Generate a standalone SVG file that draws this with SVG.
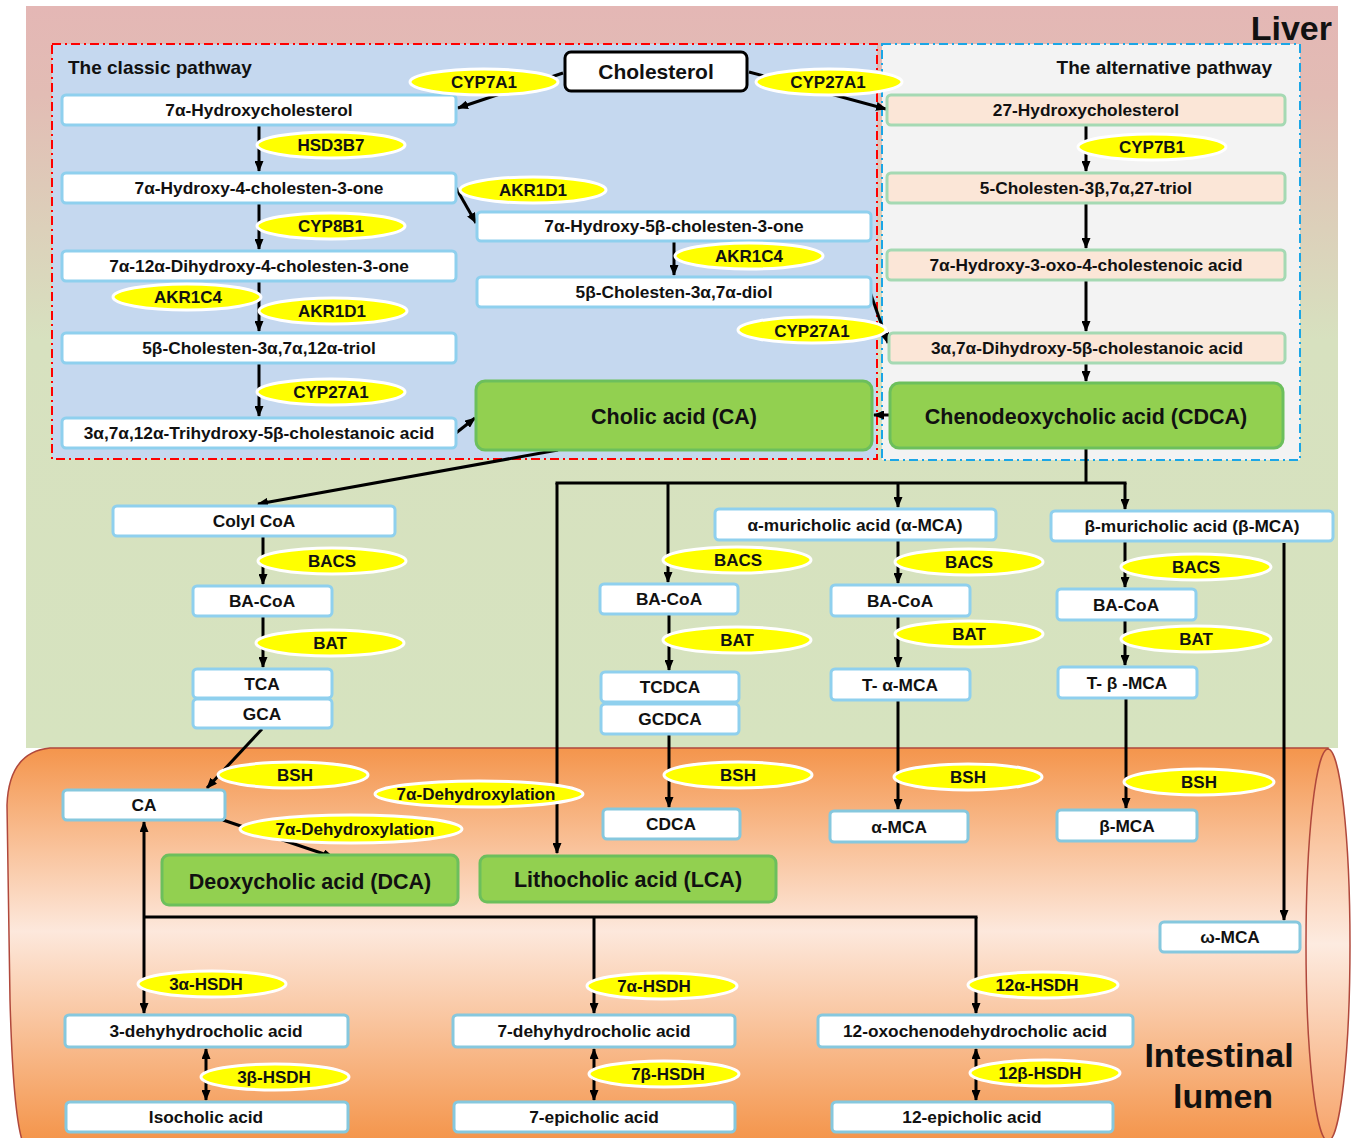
<svg xmlns="http://www.w3.org/2000/svg" width="1352" height="1138" viewBox="0 0 1352 1138">
<defs>
<linearGradient id="liverG" gradientUnits="userSpaceOnUse" x1="0" y1="6" x2="0" y2="748">
<stop offset="0" stop-color="#e4b7b5"/>
<stop offset="0.12" stop-color="#e2bcb4"/>
<stop offset="0.45" stop-color="#d7e1bf"/>
<stop offset="1" stop-color="#d6e3bf"/>
</linearGradient>
<linearGradient id="gutG" gradientUnits="userSpaceOnUse" x1="0" y1="748" x2="0" y2="1138">
<stop offset="0" stop-color="#f4954c"/>
<stop offset="0.47" stop-color="#fde8dc"/>
<stop offset="1" stop-color="#f4964d"/>
</linearGradient>
<linearGradient id="endG" gradientUnits="userSpaceOnUse" x1="0" y1="748" x2="0" y2="1140">
<stop offset="0" stop-color="#f7a56a"/>
<stop offset="0.5" stop-color="#fdebe0"/>
<stop offset="1" stop-color="#f7a46a"/>
</linearGradient>
<marker id="ah" markerUnits="userSpaceOnUse" markerWidth="11" markerHeight="9" refX="10" refY="4.5" orient="auto-start-reverse">
<path d="M0,0 L11,4.5 L0,9 z" fill="#000"/>
</marker>
<style>
text{font-family:"Liberation Sans",Arial,sans-serif;font-weight:bold;fill:#111;text-anchor:middle}
.nb{fill:#fff;stroke:#8fd0ee;stroke-width:3}
.ib{fill:#fff;stroke:#86c8de;stroke-width:3}
.ab{fill:#fbe6d7;stroke:#a5d9b3;stroke-width:3}
.gb{fill:#92d050;stroke:#6cbf5c;stroke-width:3}
.en{fill:#ffff00;stroke:#fff;stroke-width:3}
.t{font-size:17.3px}
.e{font-size:17px}
.g{font-size:21.5px}
.c{stroke:#000;stroke-width:3;fill:none}
.a{stroke:#000;stroke-width:3;fill:none;marker-end:url(#ah)}
.d{stroke:#000;stroke-width:3;fill:none;marker-end:url(#ah);marker-start:url(#ah)}
</style>
</defs>

<!-- backgrounds -->
<rect x="26" y="6" width="1312" height="742" fill="url(#liverG)"/>
<path d="M1328,748 L50,748 Q9,752 7,805 L10,1000 Q13,1110 22,1140 L1328,1140 Z" fill="url(#gutG)" stroke="#b0483c" stroke-width="1.5"/>
<ellipse cx="1328" cy="945" rx="22" ry="196" fill="url(#endG)" stroke="#b0483c" stroke-width="1.5"/>
<rect x="52" y="44" width="825" height="415" fill="#c5d8ef" stroke="#ff0000" stroke-width="2" stroke-dasharray="9,4,2,4"/>
<rect x="882" y="44" width="418" height="416" fill="#f3f3f3" stroke="#1ba6e6" stroke-width="2" stroke-dasharray="9,4,2,4"/>
<text x="1332" y="40" style="font-size:34px;text-anchor:end">Liver</text>
<text x="68" y="74" style="font-size:19px;text-anchor:start">The classic pathway</text>
<text x="1272" y="74" style="font-size:19px;text-anchor:end">The alternative pathway</text>
<text x="1219" y="1067" style="font-size:34px">Intestinal</text>
<text x="1223" y="1108" style="font-size:34px">lumen</text>

<g id="connectors">
<path class="a" d="M563,73 L458,108"/>
<path class="a" d="M749,72 L886,109"/>
<path class="a" d="M259,126 V171"/>
<path class="a" d="M259,204 V249"/>
<path class="a" d="M259,282 V331"/>
<path class="a" d="M259,364 V416"/>
<path class="a" d="M456,188 L476,223"/>
<path class="a" d="M674,241 V275"/>
<path class="a" d="M870,292 L888,343"/>
<path class="a" d="M456,433 L475,418"/>
<path class="a" d="M890,415 H874"/>
<path class="a" d="M1086,126 V171"/>
<path class="a" d="M1086,204 V248"/>
<path class="a" d="M1086,281 V331"/>
<path class="a" d="M1086,364 V381"/>
<path class="a" d="M558,450 L258,504"/>
<path class="c" d="M1086,449 V483 M555.5,483 H1126.5"/>
<path class="a" d="M557,483 V853"/>
<path class="a" d="M668,483 V582"/>
<path class="a" d="M898,483 V507"/>
<path class="a" d="M1125,483 V509"/>
<path class="a" d="M263,537 V584"/>
<path class="a" d="M263,617 V667"/>
<path class="a" d="M262,729 L207,788"/>
<path class="a" d="M669,615 V670"/>
<path class="a" d="M669,735 V807"/>
<path class="a" d="M898,541 V583"/>
<path class="a" d="M898,617 V667"/>
<path class="a" d="M898,701 V809"/>
<path class="a" d="M1125,542 V587"/>
<path class="a" d="M1125,621 V665"/>
<path class="a" d="M1126,699 V808"/>
<path class="a" d="M1284,543 V920"/>
<path class="a" d="M223,820 L333,857"/>
<path class="a" d="M144,917 V822"/>
<path class="a" d="M144,917 V1013"/>
<path class="c" d="M144,917 H977.5"/>
<path class="a" d="M594,917 V1013"/>
<path class="a" d="M976,917 V1013"/>
<path class="d" d="M206,1049 V1100"/>
<path class="d" d="M594,1049 V1100"/>
<path class="d" d="M976,1049 V1100"/>
</g>

<!-- liver: classic -->
<g id="cholesterol"><rect x="565" y="52" width="182" height="39" rx="6" fill="#fff" stroke="#000" stroke-width="3"/><text x="656" y="79" style="font-size:21px">Cholesterol</text></g>
<g id="n_7ahc"><rect class="nb" x="62" y="95" width="394" height="30" rx="4"/><text class="t" x="259" y="116">7α-Hydroxycholesterol</text></g>
<g id="n_7ah4c"><rect class="nb" x="62" y="173" width="394" height="30" rx="4"/><text class="t" x="259" y="194">7α-Hydroxy-4-cholesten-3-one</text></g>
<g id="n_dihydroxy"><rect class="nb" x="62" y="251" width="394" height="30" rx="4"/><text class="t" x="259" y="272">7α-12α-Dihydroxy-4-cholesten-3-one</text></g>
<g id="n_triol"><rect class="nb" x="62" y="333" width="394" height="30" rx="4"/><text class="t" x="259" y="354">5β-Cholesten-3α,7α,12α-triol</text></g>
<g id="n_thca"><rect class="nb" x="62" y="418" width="394" height="30" rx="4"/><text class="t" x="259" y="439">3α,7α,12α-Trihydroxy-5β-cholestanoic acid</text></g>
<g id="n_7ah5b"><rect class="nb" x="477" y="212" width="394" height="29" rx="4"/><text class="t" x="674" y="232">7α-Hydroxy-5β-cholesten-3-one</text></g>
<g id="n_diol"><rect class="nb" x="477" y="277" width="394" height="30" rx="4"/><text class="t" x="674" y="298">5β-Cholesten-3α,7α-diol</text></g>
<g id="n_ca"><rect class="gb" x="476" y="381" width="396" height="69" rx="9"/><text class="g" x="674" y="424">Cholic acid (CA)</text></g>

<!-- liver: alternative -->
<g id="n_27hc"><rect class="ab" x="887" y="95" width="398" height="30" rx="4"/><text class="t" x="1086" y="116">27-Hydroxycholesterol</text></g>
<g id="n_triol27"><rect class="ab" x="887" y="173" width="398" height="30" rx="4"/><text class="t" x="1086" y="194">5-Cholesten-3β,7α,27-triol</text></g>
<g id="n_oxo"><rect class="ab" x="887" y="250" width="398" height="30" rx="4"/><text class="t" x="1086" y="271">7α-Hydroxy-3-oxo-4-cholestenoic acid</text></g>
<g id="n_dhca"><rect class="ab" x="889" y="333" width="396" height="30" rx="4"/><text class="t" x="1087" y="354">3α,7α-Dihydroxy-5β-cholestanoic acid</text></g>
<g id="n_cdca"><rect class="gb" x="890" y="383" width="393" height="65" rx="9"/><text class="g" x="1086" y="424">Chenodeoxycholic acid (CDCA)</text></g>

<!-- liver: conjugation -->
<g id="n_colyl"><rect class="nb" x="113" y="506" width="282" height="30" rx="4"/><text class="t" x="254" y="527">Colyl CoA</text></g>
<g id="n_bacoa1"><rect class="nb" x="193" y="586" width="139" height="30" rx="4"/><text class="t" x="262" y="607">BA-CoA</text></g>
<g id="n_tca"><rect class="nb" x="193" y="669" width="139" height="29" rx="4"/><text class="t" x="262" y="690">TCA</text></g>
<g id="n_gca"><rect class="nb" x="193" y="699" width="139" height="29" rx="4"/><text class="t" x="262" y="720">GCA</text></g>
<g id="n_amca_acid"><rect class="nb" x="715" y="509" width="281" height="31" rx="4"/><text class="t" x="855" y="531">α-muricholic acid (α-MCA)</text></g>
<g id="n_bmca_acid"><rect class="nb" x="1051" y="511" width="282" height="30" rx="4"/><text class="t" x="1192" y="532">β-muricholic acid (β-MCA)</text></g>
<g id="n_bacoa2"><rect class="nb" x="600" y="584" width="138" height="30" rx="4"/><text class="t" x="669" y="605">BA-CoA</text></g>
<g id="n_tcdca"><rect class="nb" x="601" y="672" width="138" height="30" rx="4"/><text class="t" x="670" y="693">TCDCA</text></g>
<g id="n_gcdca"><rect class="nb" x="601" y="704" width="138" height="30" rx="4"/><text class="t" x="670" y="725">GCDCA</text></g>
<g id="n_bacoa3"><rect class="nb" x="831" y="585" width="139" height="31" rx="4"/><text class="t" x="900" y="607">BA-CoA</text></g>
<g id="n_tamca"><rect class="nb" x="831" y="669" width="139" height="31" rx="4"/><text class="t" x="900" y="691">T- α-MCA</text></g>
<g id="n_bacoa4"><rect class="nb" x="1057" y="589" width="139" height="31" rx="4"/><text class="t" x="1126" y="611">BA-CoA</text></g>
<g id="n_tbmca"><rect class="nb" x="1058" y="667" width="139" height="31" rx="4"/><text class="t" x="1127" y="689">T- β -MCA</text></g>

<!-- intestine -->
<g id="n_ca2"><rect class="ib" x="63" y="790" width="162" height="30" rx="4"/><text class="t" x="144" y="811">CA</text></g>
<g id="n_dca"><rect class="gb" x="162" y="855" width="296" height="50" rx="7"/><text class="g" x="310" y="889">Deoxycholic acid (DCA)</text></g>
<g id="n_lca"><rect class="gb" x="480" y="856" width="296" height="46" rx="7"/><text class="g" x="628" y="887">Lithocholic acid (LCA)</text></g>
<g id="n_cdca2"><rect class="ib" x="603" y="809" width="137" height="30" rx="4"/><text class="t" x="671" y="830">CDCA</text></g>
<g id="n_amca"><rect class="ib" x="830" y="811" width="138" height="31" rx="4"/><text class="t" x="899" y="833">α-MCA</text></g>
<g id="n_bmca"><rect class="ib" x="1057" y="810" width="140" height="31" rx="4"/><text class="t" x="1127" y="832">β-MCA</text></g>
<g id="n_omca"><rect class="ib" x="1160" y="922" width="140" height="30" rx="4"/><text class="t" x="1230" y="943">ω-MCA</text></g>
<g id="n_3dehydro"><rect class="ib" x="65" y="1015" width="283" height="32" rx="4"/><text class="t" x="206" y="1037">3-dehyhydrocholic acid</text></g>
<g id="n_iso"><rect class="ib" x="66" y="1102" width="282" height="30" rx="4"/><text class="t" x="206" y="1123">Isocholic acid</text></g>
<g id="n_7dehydro"><rect class="ib" x="453" y="1015" width="282" height="32" rx="4"/><text class="t" x="594" y="1037">7-dehyhydrocholic acid</text></g>
<g id="n_7epi"><rect class="ib" x="454" y="1102" width="281" height="30" rx="4"/><text class="t" x="594" y="1123">7-epicholic acid</text></g>
<g id="n_12oxo"><rect class="ib" x="818" y="1015" width="315" height="32" rx="4"/><text class="t" x="975" y="1037">12-oxochenodehydrocholic acid</text></g>
<g id="n_12epi"><rect class="ib" x="832" y="1102" width="281" height="30" rx="4"/><text class="t" x="972" y="1123">12-epicholic acid</text></g>

<!-- enzyme labels -->
<g id="e_cyp7a1"><ellipse class="en" cx="484" cy="82" rx="74" ry="13"/><text class="e" x="484" y="88">CYP7A1</text></g>
<g id="e_cyp27a1_top"><ellipse class="en" cx="829" cy="82" rx="73" ry="13"/><text class="e" x="828" y="88">CYP27A1</text></g>
<g id="e_hsd3b7"><ellipse class="en" cx="331" cy="145" rx="74" ry="13"/><text class="e" x="331" y="151">HSD3B7</text></g>
<g id="e_cyp8b1"><ellipse class="en" cx="331" cy="226" rx="74" ry="13"/><text class="e" x="331" y="232">CYP8B1</text></g>
<g id="e_akr1d1_up"><ellipse class="en" cx="533" cy="190" rx="73" ry="13"/><text class="e" x="533" y="196">AKR1D1</text></g>
<g id="e_akr1c4_r"><ellipse class="en" cx="749" cy="256" rx="74" ry="13"/><text class="e" x="749" y="262">AKR1C4</text></g>
<g id="e_akr1c4_l"><ellipse class="en" cx="187" cy="297" rx="74" ry="13"/><text class="e" x="188" y="303">AKR1C4</text></g>
<g id="e_akr1d1_lo"><ellipse class="en" cx="333" cy="311" rx="74" ry="13"/><text class="e" x="332" y="317">AKR1D1</text></g>
<g id="e_cyp27a1_mid"><ellipse class="en" cx="812" cy="330" rx="74" ry="13"/><text class="e" x="812" y="337">CYP27A1</text></g>
<g id="e_cyp27a1_cl"><ellipse class="en" cx="331" cy="392" rx="74" ry="13"/><text class="e" x="331" y="398">CYP27A1</text></g>
<g id="e_cyp7b1"><ellipse class="en" cx="1152" cy="147" rx="74" ry="13"/><text class="e" x="1152" y="153">CYP7B1</text></g>
<g id="e_bacs1"><ellipse class="en" cx="332" cy="561" rx="74" ry="13"/><text class="e" x="332" y="567">BACS</text></g>
<g id="e_bat1"><ellipse class="en" cx="330" cy="643" rx="74" ry="13"/><text class="e" x="330" y="649">BAT</text></g>
<g id="e_bacs2"><ellipse class="en" cx="737" cy="560" rx="74" ry="13"/><text class="e" x="738" y="566">BACS</text></g>
<g id="e_bat2"><ellipse class="en" cx="737" cy="640" rx="74" ry="13"/><text class="e" x="737" y="646">BAT</text></g>
<g id="e_bacs3"><ellipse class="en" cx="969" cy="562" rx="74" ry="13"/><text class="e" x="969" y="568">BACS</text></g>
<g id="e_bat3"><ellipse class="en" cx="969" cy="634" rx="74" ry="13"/><text class="e" x="969" y="640">BAT</text></g>
<g id="e_bacs4"><ellipse class="en" cx="1196" cy="567" rx="75" ry="13"/><text class="e" x="1196" y="573">BACS</text></g>
<g id="e_bat4"><ellipse class="en" cx="1196" cy="639" rx="75" ry="13"/><text class="e" x="1196" y="645">BAT</text></g>
<g id="e_bsh1"><ellipse class="en" cx="293" cy="775" rx="75" ry="13"/><text class="e" x="295" y="781">BSH</text></g>
<g id="e_7adh_up"><ellipse class="en" cx="479" cy="794" rx="104" ry="13"/><text class="e" x="476" y="800">7α-Dehydroxylation</text></g>
<g id="e_7adh_lo"><ellipse class="en" cx="351" cy="829" rx="111" ry="14"/><text class="e" x="355" y="835">7α-Dehydroxylation</text></g>
<g id="e_bsh2"><ellipse class="en" cx="738" cy="775" rx="74" ry="13"/><text class="e" x="738" y="781">BSH</text></g>
<g id="e_bsh3"><ellipse class="en" cx="968" cy="777" rx="74" ry="13"/><text class="e" x="968" y="783">BSH</text></g>
<g id="e_bsh4"><ellipse class="en" cx="1199" cy="782" rx="75" ry="13"/><text class="e" x="1199" y="788">BSH</text></g>
<g id="e_3ahsdh"><ellipse class="en" cx="212" cy="984" rx="74" ry="13"/><text class="e" x="206" y="990">3α-HSDH</text></g>
<g id="e_3bhsdh"><ellipse class="en" cx="275" cy="1077" rx="74" ry="13"/><text class="e" x="274" y="1083">3β-HSDH</text></g>
<g id="e_7ahsdh"><ellipse class="en" cx="662" cy="986" rx="75" ry="13"/><text class="e" x="654" y="992">7α-HSDH</text></g>
<g id="e_7bhsdh"><ellipse class="en" cx="664" cy="1074" rx="75" ry="13"/><text class="e" x="668" y="1080">7β-HSDH</text></g>
<g id="e_12ahsdh"><ellipse class="en" cx="1043" cy="985" rx="75" ry="13"/><text class="e" x="1037" y="991">12α-HSDH</text></g>
<g id="e_12bhsdh"><ellipse class="en" cx="1045" cy="1073" rx="75" ry="13"/><text class="e" x="1040" y="1079">12β-HSDH</text></g>
</svg>
